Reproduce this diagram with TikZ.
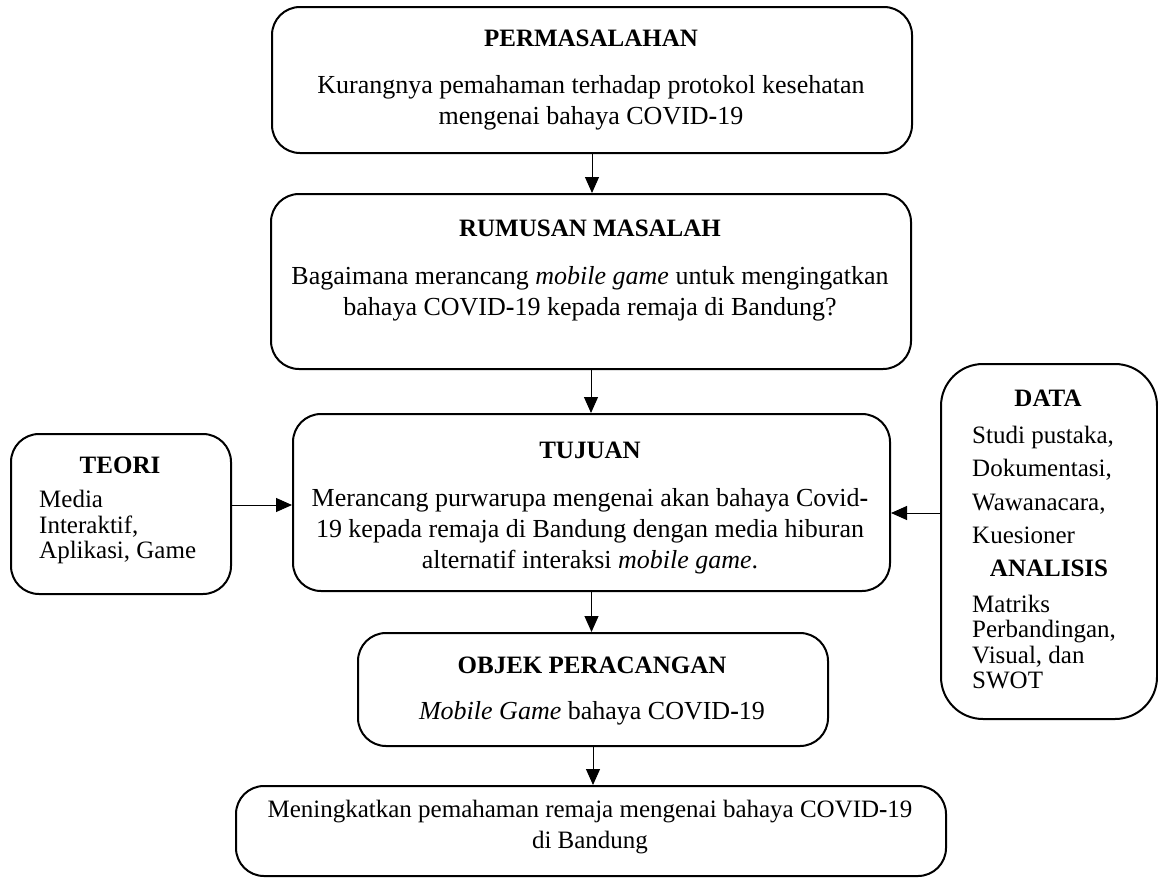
\documentclass[tikz,border=0pt]{standalone}
\usepackage{fontspec}
\setmainfont{Liberation Serif}
\usetikzlibrary{arrows.meta}
\begin{document}
\begin{tikzpicture}[x=1pt,y=-1pt,
  box/.style={draw, line width=2pt, rounded corners=28pt, anchor=north west, inner sep=0pt},
  arr/.style={-{Triangle[length=16pt,width=14pt]}, line width=1pt},
  ttl/.style={font=\fontsize{25}{28}\selectfont\bfseries},
  txt/.style={font=\fontsize{26}{31}\selectfont, align=center},
  ltxt/.style={anchor=west, align=left, inner sep=0pt}]
\useasboundingbox (0,0) rectangle (1158,878);
% boxes
\node[box, minimum width=640pt, minimum height=146pt] (b1) at (271,6) {};
\node[box, minimum width=640pt, minimum height=175pt] (b2) at (270,193) {};
\node[box, minimum width=597pt, minimum height=177pt] (b3) at (292,413) {};
\node[box, minimum width=470pt, minimum height=113pt] (b4) at (357,632) {};
\node[box, minimum width=710pt, minimum height=90pt] (b5) at (235,785) {};
\node[box, minimum width=220pt, minimum height=160pt] (teori) at (10,433) {};
\node[box, rounded corners=42pt, minimum width=216pt, minimum height=355pt] (data) at (940,363) {};
% texts
\node[ttl] (t1) at (591,38) {PERMASALAHAN};
\node[txt] (x1) at (591,103) {Kurangnya pemahaman terhadap protokol kesehatan\\mengenai bahaya COVID\textbf{-}19};
\node[ttl] (t2) at (590,228) {RUMUSAN MASALAH};
\node[txt] (x2) at (590,294) {Bagaimana merancang \textit{mobile game} untuk mengingatkan\\bahaya COVID\textbf{-}19 kepada remaja di Bandung?};
\node[ttl] (t3) at (590,450) {TUJUAN};
\node[txt] (x3) at (590,531) {Merancang purwarupa mengenai akan bahaya Covid\textbf{-}\\19 kepada remaja di Bandung dengan media hiburan\\alternatif interaksi \textit{mobile game}.};
\node[ttl] (t4) at (592,665) {OBJEK PERACANGAN};
\node[txt] (x4) at (592,713) {\textit{Mobile Game} bahaya COVID\textbf{-}19};
\node[txt, font=\fontsize{25}{31}\selectfont] (x5) at (590,827) {Meningkatkan pemahaman remaja mengenai bahaya COVID\textbf{-}19\\di Bandung};
\node[ttl] (tt) at (120,465) {TEORI};
\node[ltxt, font=\fontsize{25}{25.5}\selectfont] (xt) at (39,527) {Media\\Interaktif,\\Aplikasi, Game};
\node[ttl] (td) at (1048,398) {DATA};
\node[ltxt, font=\fontsize{25}{33.3}\selectfont] (xd) at (972,485) {Studi pustaka,\\Dokumentasi,\\Wawanacara,\\Kuesioner};
\node[ttl] (ta) at (1049,568) {ANALISIS};
\node[ltxt, font=\fontsize{25}{25.2}\selectfont] (xa) at (972,642) {Matriks\\Perbandingan,\\Visual, dan\\SWOT};
% connectors
\coordinate (yl) at (0,505);
\coordinate (yr) at (0,513);
\draw[arr] (b1.south) -- (b1.south |- b2.north);
\draw[arr] (b2.south) -- (b2.south |- b3.north);
\draw[arr] (b3.south) -- (b3.south |- b4.north);
\draw[arr] (b4.south) -- (b4.south |- b5.north);
\draw[arr] (teori.east |- yl) -- (yl -| b3.west);
\draw[arr] (data.west |- yr) -- (yr -| b3.east);
\end{tikzpicture}
\end{document}
